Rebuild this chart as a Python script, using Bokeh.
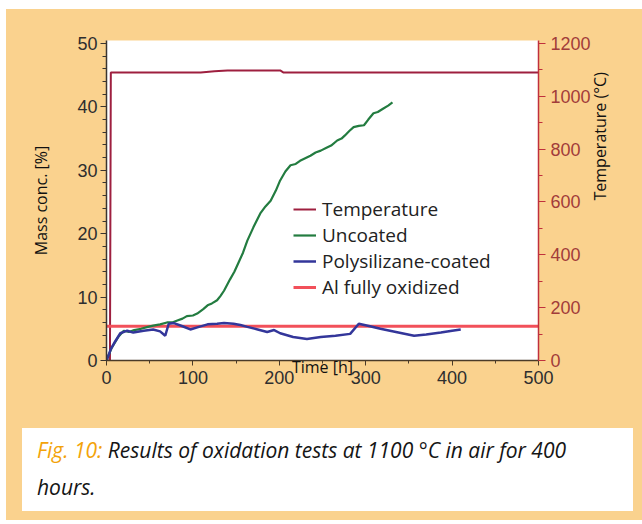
import math
from bokeh.plotting import figure
from bokeh.models import (Range1d, LinearAxis, SingleIntervalTicker, Legend, LegendItem, Div)
from bokeh.layouts import column
from bokeh.embed import file_html
from bokeh.resources import INLINE

# ---------------- data ----------------
time_temp = [0, 4, 5, 109, 125, 140, 201, 205, 500]
temp_c = [0, 0, 1090, 1090, 1095, 1098, 1098, 1090, 1090]

time_unc = [0, 3, 6, 10, 14, 20, 26, 32, 40, 48, 54, 62, 70, 76, 82, 88, 93, 100, 105, 112,
            117, 122, 128, 132, 136, 143, 148, 153, 158, 163, 170, 178, 184, 190, 196, 201, 207, 213, 219, 224,
            230, 236, 242, 248, 254, 260, 267, 272, 276, 281, 286, 292, 298, 303, 309, 314, 320, 326, 331]
mass_unc = [0, 1.0, 2.0, 2.9, 3.8, 4.7, 4.5, 4.8, 5.0, 5.3, 5.5, 5.7, 6.0, 6.0, 6.3, 6.6, 7.0, 7.1, 7.4, 8.1,
            8.7, 9.0, 9.5, 10.2, 11.0, 12.8, 14.0, 15.5, 17.0, 18.9, 21.0, 23.2, 24.3, 25.2, 26.8, 28.4, 29.8, 30.8, 31.0, 31.5,
            31.9, 32.3, 32.8, 33.1, 33.5, 33.9, 34.7, 35.0, 35.5, 36.2, 36.8, 37.0, 37.1, 38.0, 39.0, 39.2, 39.7, 40.2, 40.7]

time_coat = [0, 5, 10, 16, 24, 31, 43, 54, 62, 68, 72, 78, 88, 97, 107, 117, 128, 136, 147, 155,
             163, 175, 186, 194, 201, 216, 232, 248, 265, 282, 292, 305, 317, 335, 356, 370, 387, 400, 410]
mass_coat = [0, 1.8, 3.0, 4.3, 4.7, 4.4, 4.7, 4.9, 4.6, 3.9, 5.8, 5.9, 5.4, 4.9, 5.3, 5.7, 5.8, 5.9, 5.8, 5.6,
             5.3, 4.9, 4.5, 4.8, 4.3, 3.7, 3.4, 3.7, 3.9, 4.2, 5.8, 5.4, 5.0, 4.5, 3.9, 4.1, 4.4, 4.7, 4.9]

time_al = [0, 500]
mass_al = [5.4, 5.4]

series_names = ["Temperature", "Uncoated", "Polysilizane-coated", "Al fully oxidized"]
caption_tag = "Fig. 10:"
caption_line1 = "Results of oxidation tests at 1100 °C in air for 400"
caption_line2 = "hours."
x_ticks_interval = 100
left_ticks_interval = 10
right_ticks_interval = 200

# ---------------- layout / styles ----------------
ORANGE = "#FAD28E"
C_TEMP = "#9e1f3f"
C_UNC = "#237c40"
C_COAT = "#33369a"
C_AL = "#f2505a"
TICK_FONT = "Liberation Sans"
LAB_FONT = "Open Sans"

X0, X1 = 0, 500
Y0, Y1 = 0, 50.47
FR_L, FR_R, FR_T, FR_B = 106, 538, 40, 360   # frame edges in page pixels
PAGE_L, PAGE_T = 6, 9

p = figure(width=642 - PAGE_L, height=400 - PAGE_T, x_range=Range1d(X0, X1), y_range=Range1d(Y0, Y1),
           output_backend="svg", toolbar_location=None,
           min_border_left=FR_L - PAGE_L, min_border_right=642 - FR_R, min_border_top=FR_T - PAGE_T,
           min_border_bottom=400 - FR_B,
           x_axis_location=None, y_axis_location=None)
p.extra_y_ranges = {"temp": Range1d(0, Y1 * 24)}
p.background_fill_color = "white"
p.border_fill_color = ORANGE
p.outline_line_color = None
p.grid.visible = False


def style_axis(ax, color, label_color, out=6, minor_out=3):
    ax.axis_line_color = color
    ax.axis_line_width = 1.5
    ax.major_tick_line_color = color
    ax.minor_tick_line_color = color
    ax.major_tick_in = 0
    ax.major_tick_out = out
    ax.minor_tick_in = 0
    ax.minor_tick_out = minor_out
    ax.major_label_text_font = TICK_FONT
    ax.major_label_text_font_size = "18px"
    ax.major_label_text_color = label_color
    ax.axis_label_text_font = LAB_FONT
    ax.axis_label_text_font_style = "normal"
    ax.axis_label_text_font_size = "16px"
    ax.axis_label_text_color = "#111111"


xaxis = LinearAxis(ticker=SingleIntervalTicker(interval=x_ticks_interval, num_minor_ticks=2))
style_axis(xaxis, "#4a3b28", "#2e2e2e", out=5, minor_out=3)
xaxis.major_label_standoff = 5
xaxis.axis_label = "Time [h]"
xaxis.axis_label_standoff = -31
p.add_layout(xaxis, "below")

yaxis = LinearAxis(ticker=SingleIntervalTicker(interval=left_ticks_interval, num_minor_ticks=5))
style_axis(yaxis, "#3a3530", "#2e2e2e", out=6, minor_out=4)
yaxis.major_label_standoff = 3
yaxis.axis_label = "Mass conc. [%]"
yaxis.axis_label_standoff = 22
p.add_layout(yaxis, "left")

raxis = LinearAxis(y_range_name="temp",
                   ticker=SingleIntervalTicker(interval=right_ticks_interval, num_minor_ticks=2))
style_axis(raxis, "#c0303c", "#a23c3a", out=7, minor_out=4)
raxis.major_label_standoff = 5
raxis.axis_label = "Temperature (°C)"
raxis.axis_label_standoff = 6
if "axis_label_orientation" in raxis.properties():
    raxis.axis_label_orientation = math.pi / 2   # read bottom-to-top like the original
p.add_layout(raxis, "right")

r_temp = p.line(time_temp, temp_c, y_range_name="temp", line_color=C_TEMP, line_width=2)
r_al = p.line(time_al, mass_al, line_color=C_AL, line_width=3)
r_unc = p.line(time_unc, mass_unc, line_color=C_UNC, line_width=2.2)
r_coat = p.line(time_coat, mass_coat, line_color=C_COAT, line_width=2.5)

legend = Legend(items=[LegendItem(label=series_names[0], renderers=[r_temp]),
                       LegendItem(label=series_names[1], renderers=[r_unc]),
                       LegendItem(label=series_names[2], renderers=[r_coat]),
                       LegendItem(label=series_names[3], renderers=[r_al])],
                location=(187, 60))
legend.background_fill_alpha = 0
legend.border_line_color = None
legend.padding = 0
legend.margin = 0
legend.spacing = 0
legend.glyph_width = 23
legend.glyph_height = 20
legend.label_height = 20
legend.label_standoff = 6
legend.label_text_font = LAB_FONT
legend.label_text_font_size = "19px"
legend.label_text_color = "#222222"
p.add_layout(legend, "center")

# caption below the chart
caption_html = (
    '<div style="padding:0 0 0 15px; font-family:\'Open Sans\'; font-style:italic; '
    'font-size:21px; line-height:37px; color:#151515; white-space:nowrap;">'
    '<div style="height:4px"></div>'
    f'<span style="color:#F3A30A;">{caption_tag}</span> {caption_line1}<br>{caption_line2}'
    '</div>'
)
caption = Div(text=caption_html, width=611, height=83, margin=(28, 9, 9, 22 - PAGE_L),
              styles={"background-color": "white"})

layout = column(p, caption, spacing=0, margin=(PAGE_T, 0, 0, PAGE_L),
                styles={"background-color": ORANGE})
open("out.html", "w").write(file_html(layout, INLINE))
